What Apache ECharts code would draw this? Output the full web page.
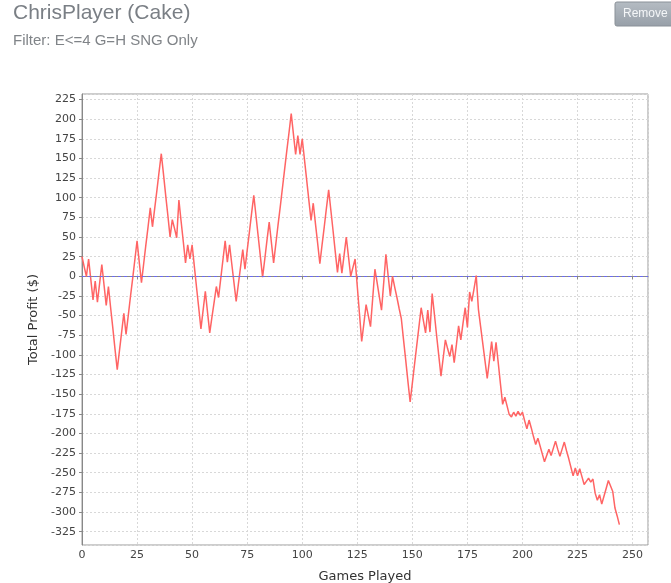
<!DOCTYPE html>
<html>
<head>
<meta charset="utf-8">
<script src="https://cdn.jsdelivr.net/npm/echarts@6/dist/echarts.min.js"></script>
<style>
html,body{margin:0;padding:0;background:#fff;}
#c{width:671px;height:583px;}
</style>
</head>
<body>
<div id="c"></div>
<script>
// Total profit after each game (game index = array position)
const profit = [
  25, 12, 0, 22, -4, -30, -6, -33, -9, 15,
  -11, -37, -13, -40, -66, -93, -119, -95, -71, -47,
  -74, -50, -26, -3, 21, 45, 18, -8, 16, 40,
  63, 87, 63, 86, 109, 133, 156, 130, 103, 77,
  50, 72, 61, 49, 97, 70, 44, 17, 40, 22,
  40, 13, -14, -40, -67, -43, -19, -46, -72, -52,
  -33, -13, -27, -3, 21, 45, 18, 40, 16, -8,
  -32, -10, 12, 34, 9, 33, 56, 80, 103, 77,
  51, 25, -1, 22, 46, 69, 43, 17, 41, 65,
  88, 112, 136, 160, 183, 207, 181, 155, 179, 155,
  175, 149, 123, 97, 71, 93, 67, 42, 16, 40,
  63, 87, 110, 84, 58, 31, 5, 29, 4, 27,
  50, 25, 0, 11, 22, -13, -48, -83, -60, -36,
  -50, -64, -28, 9, -8, -26, -43, -8, 28, 1,
  -25, 0, -14, -27, -41, -54, -81, -107, -134, -160,
  -136, -112, -88, -64, -40, -56, -72, -43, -71, -22,
  -48, -75, -101, -127, -104, -81, -92, -102, -87, -110,
  -87, -63, -81, -60, -40, -65, -20, -32, -16, 1,
  -42, -64, -86, -108, -130, -107, -83, -108, -84, -110,
  -137, -163, -154, -165, -176, -179, -173, -178, -172, -177,
  -173, -184, -194, -183, -193, -204, -214, -206, -216, -226,
  -236, -228, -220, -228, -219, -210, -220, -229, -220, -211,
  -222, -232, -243, -254, -244, -254, -245, -255, -265, -261,
  -257, -262, -258, -276, -285, -278, -290, -280, -270, -260,
  -267, -274, -295, -305, -316
];
const games = profit.map((_, i) => i);
const seriesData = games.map((g, i) => [g, profit[i]]);

const titleText = 'ChrisPlayer (Cake)';
const filterText = 'Filter: E<=4 G=H SNG Only';
const xName = 'Games Played';
const yName = 'Total Profit ($)';

const chart = echarts.init(document.getElementById('c'), null, {renderer: 'canvas'});
const tickFont = {fontFamily: 'DejaVu Sans', fontSize: 11, color: '#444'};
chart.setOption({
  animation: false,
  backgroundColor: '#fff',
  graphic: [
    {type: 'text', left: 13, top: 3, style: {text: titleText, font: '21px "Liberation Sans"', fill: '#7a7f85'}},
    {type: 'text', left: 13, top: 33, style: {text: filterText, font: '15px "Liberation Sans"', fill: '#808488'}},
    {type: 'rect', shape: {x: 615, y: 2, width: 60, height: 24, r: 2},
      style: {fill: new echarts.graphic.LinearGradient(0, 0, 0, 1, [{offset: 0, color: '#b5bcc3'}, {offset: 1, color: '#979fa8'}]), stroke: '#8a9198'}},
    {type: 'text', x: 623, y: 8, style: {text: 'Remove', font: '12px "Liberation Sans"', fill: '#f4f6f8'}}
  ],
  grid: {left: 82, top: 94, right: 23, bottom: 38, show: true, borderColor: '#9a9a9a', borderWidth: 1, outerBoundsMode: 'none', containLabel: false},
  xAxis: {
    type: 'value', min: 0, max: 257, interval: 25,
    name: xName, nameLocation: 'middle', nameGap: 25,
    nameTextStyle: {fontFamily: 'DejaVu Sans', fontSize: 13, color: '#333'},
    axisLine: {lineStyle: {color: '#888'}},
    axisTick: {show: true, length: 3, lineStyle: {color: '#888'}},
    axisLabel: Object.assign({margin: 5, showMaxLabel: false, formatter: v => (v % 25 === 0 ? String(v) : '')}, tickFont),
    splitLine: {show: true, lineStyle: {color: '#d8d8d8', type: [2, 2]}}
  },
  yAxis: {
    type: 'value', min: -342, max: 232, minInterval: 25, maxInterval: 25,
    name: yName, nameLocation: 'middle', nameGap: 42,
    nameTextStyle: {fontFamily: 'DejaVu Sans', fontSize: 13, color: '#333'},
    axisLine: {show: true, lineStyle: {color: '#888'}},
    axisTick: {show: true, length: 3, lineStyle: {color: '#888'}},
    axisLabel: Object.assign({margin: 6, showMinLabel: false, showMaxLabel: false, formatter: v => (v % 25 === 0 ? String(v) : '')}, tickFont),
    splitLine: {show: true, lineStyle: {color: '#d8d8d8', type: [2, 2]}}
  },
  series: [{
    type: 'line',
    data: seriesData,
    showSymbol: false,
    lineStyle: {color: '#ff6464', width: 1.5},
    markLine: {
      silent: true, symbol: 'none', label: {show: false},
      lineStyle: {color: '#6b6bf2', type: [3, 3], width: 1},
      data: [{yAxis: 0}]
    }
  }]
});
</script>
</body>
</html>
